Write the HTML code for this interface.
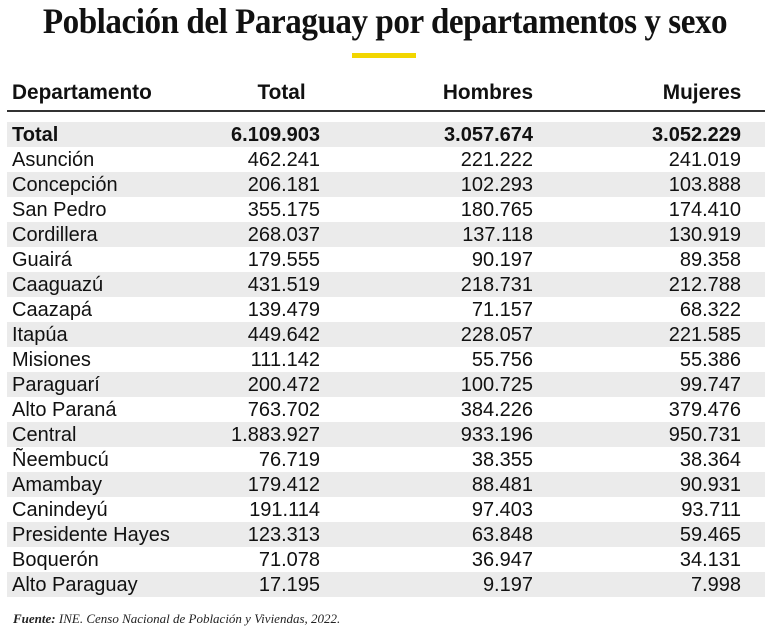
<!DOCTYPE html>
<html><head><meta charset="utf-8"><style>
body{margin:0;width:770px;height:642px;background:#fff;position:relative;overflow:hidden;font-family:"Liberation Sans",Arial,sans-serif;color:#111}
.title{position:absolute;left:0;width:770px;top:0px;text-align:center;font-family:"Liberation Serif",serif;font-weight:bold;font-size:36px;letter-spacing:-0.5px;transform:scaleX(0.92);transform-origin:385px 0}
.bar{position:absolute;left:352px;top:53px;width:64px;height:5px;background:#f2d600}
.hdr{position:absolute;top:81px;font-size:21px;font-weight:bold;transform:scaleX(0.99)}
.line{position:absolute;left:7px;top:110px;width:758px;height:2px;background:#333}
.row{position:absolute;left:7px;width:758px;height:25px;font-size:20px;line-height:26px}
.row.s{background:#ebebeb}
.row span{position:absolute;white-space:nowrap}
.n{left:5px}.a{right:445px}.b{right:232px}.c{right:24px}
.row.t{font-weight:bold}
.foot{position:absolute;left:13px;top:611px;font-family:"Liberation Serif",serif;font-style:italic;font-size:13px;color:#222}
</style></head><body>
<div class="title">Población del Paraguay por departamentos y sexo</div>
<div class="bar"></div>
<div class="hdr" style="left:12px;transform-origin:0 0">Departamento</div>
<div class="hdr" style="right:464px;transform-origin:100% 0">Total</div>
<div class="hdr" style="right:237px;transform-origin:100% 0">Hombres</div>
<div class="hdr" style="right:29px;transform-origin:100% 0">Mujeres</div>
<div class="line"></div>
<div class="row s t" style="top:122px"><span class="n">Total</span><span class="a">6.109.903</span><span class="b">3.057.674</span><span class="c">3.052.229</span></div>
<div class="row" style="top:147px"><span class="n">Asunción</span><span class="a">462.241</span><span class="b">221.222</span><span class="c">241.019</span></div>
<div class="row s" style="top:172px"><span class="n">Concepción</span><span class="a">206.181</span><span class="b">102.293</span><span class="c">103.888</span></div>
<div class="row" style="top:197px"><span class="n">San Pedro</span><span class="a">355.175</span><span class="b">180.765</span><span class="c">174.410</span></div>
<div class="row s" style="top:222px"><span class="n">Cordillera</span><span class="a">268.037</span><span class="b">137.118</span><span class="c">130.919</span></div>
<div class="row" style="top:247px"><span class="n">Guairá</span><span class="a">179.555</span><span class="b">90.197</span><span class="c">89.358</span></div>
<div class="row s" style="top:272px"><span class="n">Caaguazú</span><span class="a">431.519</span><span class="b">218.731</span><span class="c">212.788</span></div>
<div class="row" style="top:297px"><span class="n">Caazapá</span><span class="a">139.479</span><span class="b">71.157</span><span class="c">68.322</span></div>
<div class="row s" style="top:322px"><span class="n">Itapúa</span><span class="a">449.642</span><span class="b">228.057</span><span class="c">221.585</span></div>
<div class="row" style="top:347px"><span class="n">Misiones</span><span class="a">111.142</span><span class="b">55.756</span><span class="c">55.386</span></div>
<div class="row s" style="top:372px"><span class="n">Paraguarí</span><span class="a">200.472</span><span class="b">100.725</span><span class="c">99.747</span></div>
<div class="row" style="top:397px"><span class="n">Alto Paraná</span><span class="a">763.702</span><span class="b">384.226</span><span class="c">379.476</span></div>
<div class="row s" style="top:422px"><span class="n">Central</span><span class="a">1.883.927</span><span class="b">933.196</span><span class="c">950.731</span></div>
<div class="row" style="top:447px"><span class="n">Ñeembucú</span><span class="a">76.719</span><span class="b">38.355</span><span class="c">38.364</span></div>
<div class="row s" style="top:472px"><span class="n">Amambay</span><span class="a">179.412</span><span class="b">88.481</span><span class="c">90.931</span></div>
<div class="row" style="top:497px"><span class="n">Canindeyú</span><span class="a">191.114</span><span class="b">97.403</span><span class="c">93.711</span></div>
<div class="row s" style="top:522px"><span class="n">Presidente Hayes</span><span class="a">123.313</span><span class="b">63.848</span><span class="c">59.465</span></div>
<div class="row" style="top:547px"><span class="n">Boquerón</span><span class="a">71.078</span><span class="b">36.947</span><span class="c">34.131</span></div>
<div class="row s" style="top:572px"><span class="n">Alto Paraguay</span><span class="a">17.195</span><span class="b">9.197</span><span class="c">7.998</span></div>
<div class="foot"><b>Fuente:</b> INE. Censo Nacional de Población y Viviendas, 2022.</div>
</body></html>
